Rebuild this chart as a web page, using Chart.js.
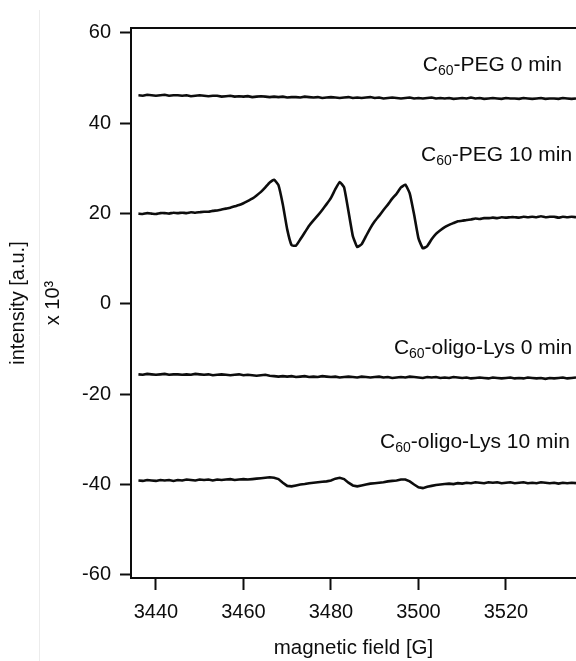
<!DOCTYPE html>
<html>
<head>
<meta charset="utf-8">
<script src="https://cdn.jsdelivr.net/npm/chart.js@4/dist/chart.umd.min.js"></script>
<style>
    html, body { margin: 0; padding: 0; background: #fff; }
    #wrap { width: 576px; height: 661px; }
</style>
</head>
<body>
<div id="wrap"><canvas id="esrChart" width="576" height="661"></canvas></div>
<script>
// Field axis (G), one reading per gauss
const fieldG = [];
for (let g = 3436; g <= 3536; g++) fieldG.push(g);

// Signal traces (intensity x 10^3), offset as in the figure
const peg0 = [
    46.2, 46.1, 46.3, 46.2, 46.1, 46.2, 46.3, 46.1, 46.2, 46.2,
    46.1, 46.2, 46.0, 46.1, 46.2, 46.1, 46.0, 46.1, 46.1, 45.9,
    46.0, 46.1, 45.9, 46.0, 45.9, 46.0, 45.8, 45.9, 46.0, 45.9,
    45.8, 45.9, 45.8, 45.9, 45.7, 45.8, 45.8, 45.7, 45.9, 45.8,
    45.7, 45.8, 45.6, 45.7, 45.8, 45.7, 45.6, 45.7, 45.8, 45.6,
    45.7, 45.6, 45.7, 45.8, 45.6, 45.7, 45.5, 45.6, 45.7, 45.6,
    45.5, 45.6, 45.7, 45.5, 45.6, 45.5, 45.6, 45.7, 45.5, 45.6,
    45.5, 45.6, 45.4, 45.5, 45.6, 45.5, 45.7, 45.5, 45.6, 45.4,
    45.5, 45.6, 45.5, 45.4, 45.6, 45.5, 45.5, 45.4, 45.6, 45.5,
    45.4, 45.5, 45.6, 45.4, 45.5, 45.5, 45.4, 45.6, 45.5, 45.4,
    45.5
];

const peg10 = [
    20.0, 19.9, 20.1, 20.0, 19.9, 20.1, 20.1, 20.0, 20.2, 20.1,
    20.2, 20.1, 20.3, 20.2, 20.3, 20.4, 20.4, 20.6, 20.7, 20.9,
    21.1, 21.3, 21.6, 21.9, 22.3, 22.8, 23.3, 24.0, 24.8, 25.8,
    26.9, 27.5, 26.3, 22.0, 16.5, 13.0, 12.9, 14.3, 15.8, 17.3,
    18.5, 19.6, 20.8, 22.1, 23.5, 25.4, 27.0, 25.8, 20.5, 15.0,
    12.6, 13.2, 15.0, 16.8, 18.3, 19.5, 20.8, 22.0, 23.3, 24.4,
    25.8, 26.4, 24.5, 19.8, 14.5, 12.3, 12.8, 14.3, 15.5, 16.3,
    17.0, 17.5, 17.9, 18.3, 18.4, 18.6, 18.7, 18.9, 18.8, 19.0,
    19.0, 19.1, 19.0, 19.2, 19.1, 19.2, 19.2, 19.1, 19.3, 19.2,
    19.3, 19.2, 19.4, 19.2, 19.3, 19.3, 19.1, 19.3, 19.2, 19.3,
    19.2
];

const lys0 = [
    -15.6, -15.7, -15.5, -15.6, -15.7, -15.6, -15.5, -15.7, -15.6, -15.6,
    -15.7, -15.6, -15.7, -15.5, -15.6, -15.7, -15.6, -15.8, -15.7, -15.6,
    -15.7, -15.8, -15.7, -15.6, -15.8, -15.7, -15.8, -15.9, -15.8, -15.7,
    -15.9, -16.0, -16.1, -16.0, -16.1, -16.0, -16.2, -16.1, -16.0, -16.2,
    -16.1, -16.2, -16.0, -16.1, -16.2, -16.1, -16.3, -16.2, -16.1, -16.2,
    -16.3, -16.1, -16.2, -16.3, -16.2, -16.1, -16.3, -16.2, -16.4, -16.3,
    -16.2, -16.3, -16.1, -16.2, -16.3, -16.4, -16.2, -16.3, -16.2, -16.4,
    -16.3, -16.4, -16.2, -16.3, -16.4, -16.3, -16.5, -16.4, -16.3, -16.4,
    -16.5, -16.3, -16.4, -16.5, -16.4, -16.3, -16.5, -16.4, -16.5, -16.3,
    -16.4, -16.5, -16.4, -16.6, -16.4, -16.5, -16.4, -16.3, -16.5, -16.4,
    -16.3
];

const lys10 = [
    -39.1, -39.2, -39.0, -39.1, -39.2, -39.0, -39.1, -39.0, -39.2, -39.0,
    -39.1, -38.9, -39.0, -39.1, -38.9, -39.0, -38.9, -39.1, -38.9, -39.0,
    -38.9, -38.8, -39.0, -38.9, -38.8, -38.9, -38.8, -38.7, -38.6, -38.5,
    -38.4, -38.5, -38.8, -39.6, -40.3, -40.4, -40.2, -40.0, -39.9, -39.7,
    -39.6, -39.5, -39.4, -39.3, -39.1, -38.7, -38.5, -38.8, -39.6, -40.2,
    -40.4, -40.2, -40.0, -39.8, -39.7, -39.6, -39.5, -39.3, -39.2, -39.1,
    -38.9, -38.9, -39.3, -40.0, -40.6, -40.8, -40.5, -40.3, -40.1, -40.0,
    -39.9, -39.8, -39.9, -39.7, -39.8, -39.6, -39.7, -39.5, -39.6, -39.7,
    -39.5, -39.6, -39.5, -39.7, -39.6, -39.5, -39.7, -39.6, -39.5, -39.7,
    -39.6, -39.7, -39.5, -39.6, -39.7, -39.6, -39.8, -39.6, -39.7, -39.6,
    -39.7
];

// Tick labels
const xTicks = [3440, 3460, 3480, 3500, 3520];
const yTicks = [-60, -40, -20, 0, 20, 40, 60];

// Trace labels: "C" + subscript "60" + rest, anchored (right edge) in data units
const labelRest = ['-PEG 0 min', '-PEG 10 min', '-oligo-Lys 0 min', '-oligo-Lys 10 min'];
const labelX = [3532.8, 3535.1, 3535.1, 3534.6];
const labelY = [52.9, 33.0, -9.7, -30.6];

const FONT = '"Liberation Sans", Arial, Helvetica, sans-serif';
const INK = '#0d0d0d';

function series(values) {
    return values.map((v, i) => ({ x: fieldG[i], y: v }));
}

// Top frame line + faint page rule on the left
const framePlugin = {
    id: 'frame',
    beforeDraw(chart) {
        const ctx = chart.ctx;
        ctx.save();
        ctx.strokeStyle = '#ececec';
        ctx.lineWidth = 1;
        ctx.beginPath();
        ctx.moveTo(39.5, 10);
        ctx.lineTo(39.5, chart.height);
        ctx.stroke();
        ctx.restore();
    },
    afterDraw(chart) {
        const { ctx, chartArea } = chart;
        ctx.save();
        ctx.strokeStyle = INK;
        ctx.lineWidth = 2;
        ctx.beginPath();
        ctx.moveTo(chartArea.left - 1, chartArea.top);
        ctx.lineTo(chartArea.right, chartArea.top);
        ctx.stroke();
        ctx.restore();
    }
};

// C60 labels with subscript
const traceLabelPlugin = {
    id: 'traceLabels',
    afterDatasetsDraw(chart) {
        const { ctx, scales: { x, y } } = chart;
        const mainFont = '21px ' + FONT;
        const subFont = '14px ' + FONT;
        ctx.save();
        ctx.fillStyle = INK;
        ctx.textBaseline = 'middle';
        ctx.textAlign = 'left';
        labelRest.forEach((rest, i) => {
            const right = x.getPixelForValue(labelX[i]);
            const mid = y.getPixelForValue(labelY[i]);
            ctx.font = mainFont;
            const wC = ctx.measureText('C').width;
            const wRest = ctx.measureText(rest).width;
            ctx.font = subFont;
            const wSub = ctx.measureText('60').width;
            let left = right - (wC + wSub + wRest);
            ctx.font = mainFont;
            ctx.fillText('C', left, mid);
            ctx.font = subFont;
            ctx.fillText('60', left + wC, mid + 6);
            ctx.font = mainFont;
            ctx.fillText(rest, left + wC + wSub, mid);
        });
        ctx.restore();
    }
};

const lineStyle = {
    borderColor: INK,
    borderWidth: 2.6,
    pointRadius: 0,
    tension: 0,
    fill: false
};

new Chart(document.getElementById('esrChart'), {
    type: 'line',
    data: {
        datasets: [
            { label: 'C60-PEG 0 min', data: series(peg0), ...lineStyle },
            { label: 'C60-PEG 10 min', data: series(peg10), ...lineStyle, tension: 0.12 },
            { label: 'C60-oligo-Lys 0 min', data: series(lys0), ...lineStyle },
            { label: 'C60-oligo-Lys 10 min', data: series(lys10), ...lineStyle }
        ]
    },
    options: {
        responsive: false,
        animation: false,
        events: [],
        layout: { padding: { left: 0, top: 28, right: 0, bottom: 0 } },
        plugins: {
            legend: { display: false },
            tooltip: { enabled: false }
        },
        scales: {
            x: {
                type: 'linear',
                min: 3434.3,
                max: 3536,
                afterBuildTicks: axis => { axis.ticks = xTicks.map(v => ({ value: v })); },
                afterFit: axis => { axis.height = 83; },
                grid: {
                    drawOnChartArea: false,
                    drawTicks: true,
                    tickLength: 12,
                    tickWidth: 2,
                    tickColor: INK
                },
                border: { display: true, color: INK, width: 2 },
                ticks: {
                    autoSkip: false,
                    maxRotation: 0,
                    padding: 10,
                    color: INK,
                    font: { family: FONT, size: 20 },
                    callback: value => String(value)
                },
                title: {
                    display: true,
                    text: 'magnetic field [G]',
                    color: INK,
                    padding: { top: 0, bottom: 0 },
                    font: { family: FONT, size: 20.5 }
                }
            },
            y: {
                min: -60.7,
                max: 61.1,
                afterBuildTicks: axis => { axis.ticks = yTicks.map(v => ({ value: v })); },
                afterFit: axis => { axis.width = 131; },
                grid: {
                    drawOnChartArea: false,
                    drawTicks: true,
                    tickLength: 11,
                    tickWidth: 2,
                    tickColor: INK
                },
                border: { display: true, color: INK, width: 2 },
                ticks: {
                    autoSkip: false,
                    padding: 9,
                    color: INK,
                    font: { family: FONT, size: 20 },
                    callback: value => String(value)
                },
                title: {
                    display: true,
                    text: ['intensity [a.u.]', 'x 10\u00B3'],
                    color: INK,
                    padding: { top: 1, bottom: 0 },
                    font: { family: FONT, size: 20, lineHeight: 1.75 }
                }
            }
        }
    },
    plugins: [framePlugin, traceLabelPlugin]
});
</script>
</body>
</html>
